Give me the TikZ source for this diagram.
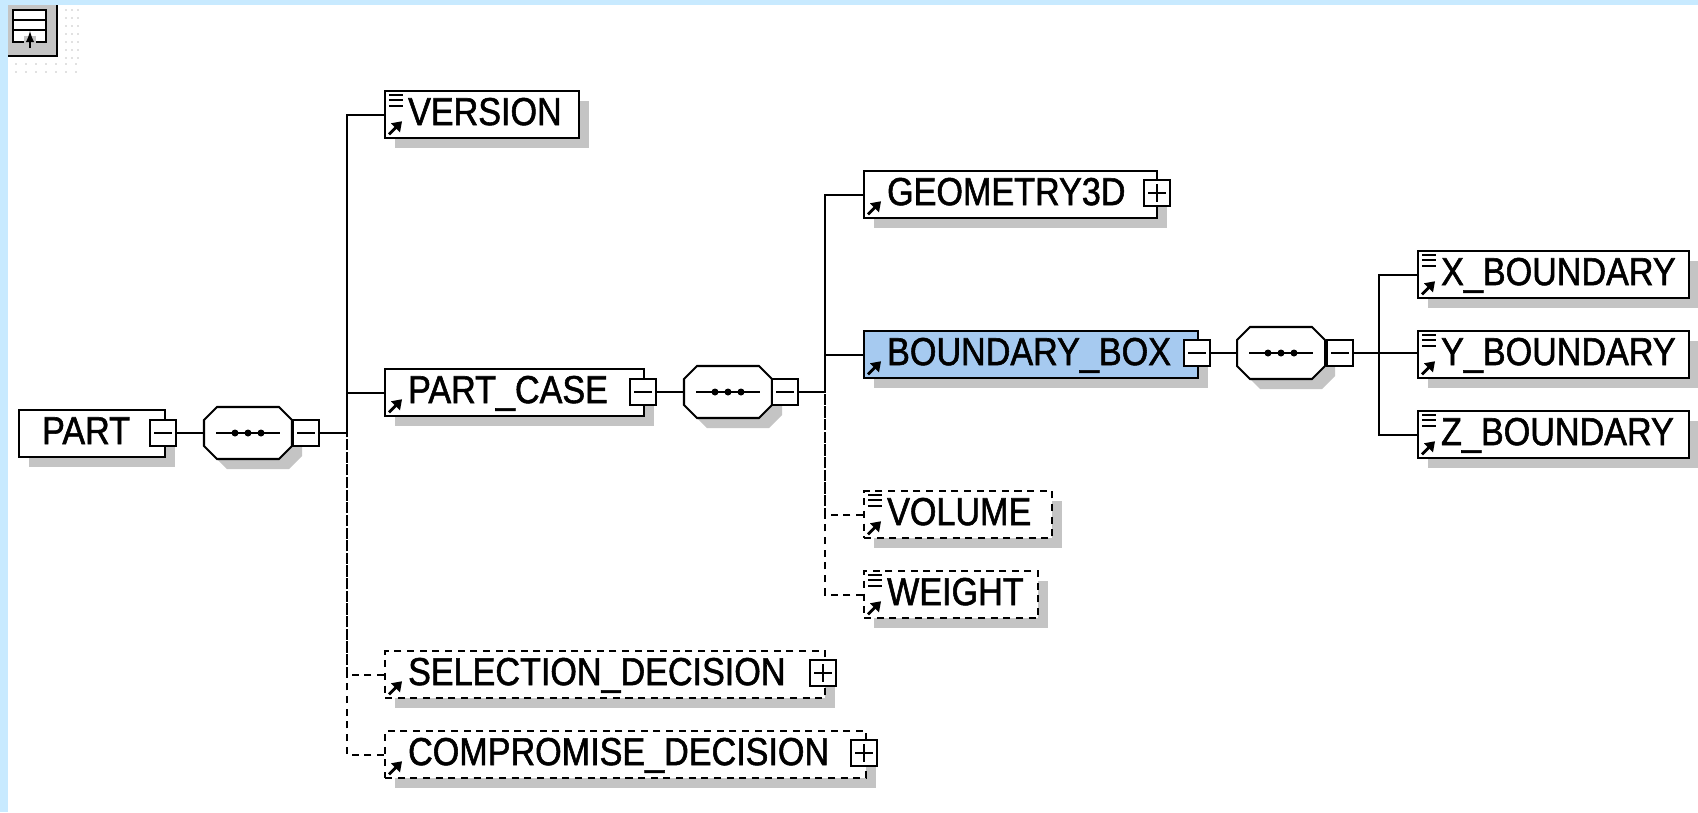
\documentclass[tikz,border=0pt]{standalone}
\usepackage{fontspec}
\setmainfont[FakeStretch=0.875,FakeBold=1.4]{Liberation Sans}
\usetikzlibrary{positioning,calc,shadows}
\definecolor{bandblue}{HTML}{C8EAFF}
\definecolor{selblue}{HTML}{A6CAF0}
\definecolor{shadegray}{HTML}{C4C4C4}
\newcommand{\un}{0.02cm}
\tikzstyle{link}=[line width=1.15pt]
\tikzstyle{optlink}=[line width=1.15pt, dash pattern=on 4pt off 3.2pt]
\tikzstyle{castshadow}=[drop shadow={shadow xshift=10*\un, shadow yshift=-10*\un, fill=shadegray, opacity=1}]
\tikzset{wide/.code={\pgfmathsetlengthmacro\boxw{#1*\un}\tikzset{minimum width=\boxw,text width=\boxw}}}
\tikzstyle{elem}=[rectangle, draw, fill=white, castshadow, line width=1.3pt, anchor=north west, inner sep=0pt, minimum height=47*\un, text height=15.9pt, text depth=4pt, font=\fontsize{22.2}{24}\selectfont, align=left, execute at begin node={\hspace*{0.46cm}}]
\tikzstyle{optelem}=[elem, dash pattern=on 4pt off 3.2pt]
\tikzstyle{seq}=[rectangle, inner sep=0pt, minimum width=1.76cm, minimum height=1.04cm]
\tikzstyle{tog}=[rectangle, draw, fill=white, line width=1.15pt, inner sep=0pt, minimum width=26*\un, minimum height=26*\un]
\tikzstyle{togminus}=[tog, path picture={\draw[line width=1pt] ($(path picture bounding box.center)+(-9,0)$) -- ($(path picture bounding box.center)+(9,0)$);}]
\tikzstyle{togplus}=[tog, path picture={\draw[line width=1pt] ($(path picture bounding box.center)+(-9,0)$) -- ($(path picture bounding box.center)+(9,0)$) ($(path picture bounding box.center)+(0,-9)$) -- ($(path picture bounding box.center)+(0,9)$);}]
\tikzset{
	refarrow/.pic={\draw[line width=1.6pt] (5,-5) -- (13,-13); \fill (18,-18) -- (7,-16) -- (16,-7) -- cycle;},
	attrlines/.pic={\foreach \ly in {5,10,16} \draw[line width=0.9pt] (5,\ly) -- (19,\ly);},
	octagon/.pic={
		\fill[shadegray] (-34,-3) -- (-21,-16) -- (41,-16) -- (54,-3) -- (54,23) -- (41,36) -- (-21,36) -- (-34,23) -- cycle;
		\draw[fill=white, line width=1.15pt] (-44,-13) -- (-31,-26) -- (31,-26) -- (44,-13) -- (44,13) -- (31,26) -- (-31,26) -- (-44,13) -- cycle;
		\draw[link] (-32,0) -- (32,0);
		\foreach \off in {-13,0,13} \fill (\off,0) circle (3.5);
	}
}
\begin{document}
\begin{tikzpicture}[x=\un,y=-\un]
	\useasboundingbox (0,0) rectangle (1698,812);
	\fill[white] (0,0) rectangle (1698,812);
	\fill[bandblue] (0,0) rectangle (1698,5);
	\fill[bandblue] (0,0) rectangle (8,812);

	% toolbar button
	\foreach \dx in {66,72,78} \foreach \dy in {10,18,26,34,42,50,58} \fill[shadegray] (\dx,\dy) circle (0.8);
	\foreach \dx in {16,26,36,46,56,66,76} \foreach \dy in {64,72} \fill[shadegray] (\dx,\dy) circle (0.8);
	\node[rectangle, fill=shadegray, inner sep=0pt, minimum width=48*\un, minimum height=50*\un, anchor=north west] (button) at (8,5) {};
	\draw[line width=1.2pt] (button.north east) -- (button.south east) -- (button.south west);
	\draw[line width=1.2pt, fill=white] (13,10) rectangle (46,42);
	\draw[line width=1pt] (13,20) -- (46,20) (13,30) -- (46,30);
	\fill[shadegray] (24,36) rectangle (36,46);
	\draw[line width=1.2pt, -latex] (30,48) -- (30,31);

	% elements
	\node[elem, wide=146] (part) at (18,409) {PART};
	\node[elem, wide=194] (version) at (384,90) {VERSION};
	\node[elem, wide=259] (partcase) at (384,368) {PART\_CASE};
	\node[optelem, wide=440] (selection) at (384,650) {SELECTION\_DECISION};
	\node[optelem, wide=481] (compromise) at (384,730) {COMPROMISE\_DECISION};
	\node[elem, wide=293] (geometry) at (863,170) {GEOMETRY3D};
	\node[elem, fill=selblue, wide=334] (boundarybox) at (863,330) {BOUNDARY\_BOX};
	\node[optelem, wide=188] (volume) at (863,490) {VOLUME};
	\node[optelem, wide=174] (weight) at (863,570) {WEIGHT};
	\node[elem, wide=271] (xbound) at (1417,250) {X\_BOUNDARY};
	\node[elem, wide=271] (ybound) at (1417,330) {Y\_BOUNDARY};
	\node[elem, wide=271] (zbound) at (1417,410) {Z\_BOUNDARY};

	% sequence groups
	\node[seq] (seqa) at (248,433) {};
	\node[seq] (seqb) at (728,392) {};
	\node[seq] (seqc) at (1281,353) {};
	\foreach \grp in {seqa,seqb,seqc} \pic at (\grp) {octagon};

	% toggles
	\node[togminus] (parttog) at (163,433) {};
	\node[togminus] (seqatog) at (306,433) {};
	\node[togminus] (casetog) at (643,392) {};
	\node[togminus] (seqbtog) at (785,392) {};
	\node[togminus] (boxtog) at (1197,353) {};
	\node[togminus] (seqctog) at (1340,353) {};
	\node[togplus] (geomtog) at (1157,193) {};
	\node[togplus] (seltog) at (823,673) {};
	\node[togplus] (comptog) at (864,753) {};

	\coordinate (forka) at (347,433);
	\coordinate (forkb) at (825,392);
	\coordinate (forkc) at (1379,353);

	% connectors
	\draw[link] (parttog) -- (seqa);
	\draw[link] (seqatog) -- (forka);
	\draw[link] (casetog) -- (seqb);
	\draw[link] (seqbtog) -- (forkb);
	\draw[link] (boxtog) -- (seqc);
	\draw[link] (seqctog) -- (seqctog -| ybound.west);
	\draw[link] (version.west) -| (forka);
	\draw[link] (partcase.west) -- (partcase.west -| forka);
	\draw[optlink] (selection.west) -| (forka);
	\draw[optlink] (compromise.west) -| (forka);
	\draw[link] (geometry.west) -| (forkb);
	\draw[link] (boundarybox.west) -- (boundarybox.west -| forkb);
	\draw[optlink] (volume.west) -| (forkb);
	\draw[optlink] (weight.west) -| (forkb);
	\draw[link] (xbound.west) -| (forkc);
	\draw[link] (zbound.west) -| (forkc);

	% marks on the elements
	\foreach \elm in {version,partcase,selection,compromise,geometry,boundarybox,volume,weight,xbound,ybound,zbound} \pic at (\elm.south west) {refarrow};
	\foreach \elm in {version,volume,weight,xbound,ybound,zbound} \pic at (\elm.north west) {attrlines};
\end{tikzpicture}
\end{document}
